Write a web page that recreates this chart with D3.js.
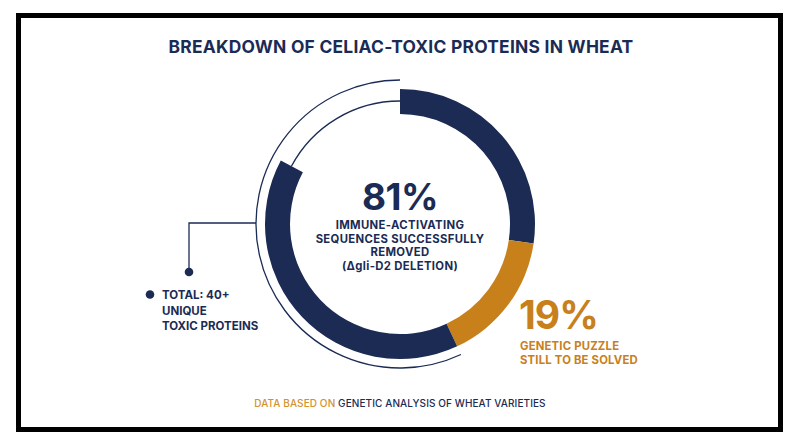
<!DOCTYPE html>
<html><head><meta charset="utf-8">
<script src="https://cdn.jsdelivr.net/npm/d3@7"></script>
<style>html,body{margin:0;padding:0;background:#fff;}svg{display:block;}</style>
</head><body>
<svg id="c" width="800" height="447"></svg>
<script>
// Data
const segmentLabels = ["Removed (part 1)", "Genetic puzzle", "Removed (part 2)"];
const segmentValues = [33, 19, 48];           // 81% navy split around the 19% orange slice
const segmentKinds  = ["removed", "puzzle", "removed"];
const mainValue = 81;
const puzzleValue = 19;
const titleText = "BREAKDOWN OF CELIAC-TOXIC PROTEINS IN WHEAT";
const centerLines = ["IMMUNE-ACTIVATING", "SEQUENCES SUCCESSFULLY", "REMOVED", "(\u0394gli-D2 DELETION)"];
const puzzleLines = ["GENETIC PUZZLE", "STILL TO BE SOLVED"];
const totalLines = ["TOTAL: 40+", "UNIQUE", "TOXIC PROTEINS"];

const NAVY = "#1b2b54", ORANGE = "#c8801a", ORANGE_L = "#d4922e";
const FONT = "Inter, 'Open Sans', sans-serif";
const svg = d3.select("#c");

// Frame
svg.append("rect").attr("x",18.5).attr("y",15.5).attr("width",762).attr("height",414)
  .attr("fill","#fff").attr("stroke","#000").attr("stroke-width",5);

// Title
svg.append("text").attr("x",401).attr("y",53).attr("text-anchor","middle")
  .attr("font-family",FONT).attr("font-weight",700).attr("font-size",17.4)
  .attr("letter-spacing",0.25)
  .attr("fill",NAVY).text(titleText);

const cx = 400, cy = 224, rOut = 135, rIn = 110;
const deg = Math.PI/180;
const ringSpan = 298*deg;
const g = svg.append("g").attr("transform",`translate(${cx},${cy})`);

const pie = d3.pie().sort(null).value(d=>d).startAngle(0).endAngle(ringSpan);
const arcs = pie(segmentValues);
const arcGen = d3.arc().innerRadius(rIn).outerRadius(rOut);
g.selectAll("path.seg").data(arcs).join("path").attr("class","seg")
  .attr("d",arcGen)
  .attr("fill",(d,i)=>segmentKinds[i]==="puzzle"?ORANGE:NAVY);

// Thin line in the unfilled gap (mid radius)
const thinMid = d3.arc().innerRadius(123).outerRadius(123).startAngle(ringSpan).endAngle(2*Math.PI);
g.append("path").attr("d",thinMid()).attr("fill","none").attr("stroke",NAVY).attr("stroke-width",1.3);

// Outer thin arc from end of puzzle slice around to top
const puzzleEnd = arcs[1].endAngle;
const thinOuter = d3.arc().innerRadius(144).outerRadius(144).startAngle(puzzleEnd).endAngle(2*Math.PI);
g.append("path").attr("d",thinOuter()).attr("fill","none").attr("stroke",NAVY).attr("stroke-width",1.3);

// Center text
g.append("text").attr("x",0).attr("y",-14).attr("text-anchor","middle")
  .attr("font-family",FONT).attr("font-weight",700).attr("font-size",37)
  .attr("fill",NAVY).attr("letter-spacing",-0.5).text(mainValue+"%");
g.selectAll("text.cl").data(centerLines).join("text").attr("class","cl")
  .attr("x",0).attr("y",(d,i)=>5+i*13.7).attr("text-anchor","middle")
  .attr("font-family",FONT).attr("font-weight",700).attr("font-size",11.3)
  .attr("letter-spacing",0.35)
  .attr("fill",NAVY).text(d=>d);

// Puzzle label
svg.append("text").attr("x",519).attr("y",328.5)
  .attr("font-family",FONT).attr("font-weight",700).attr("font-size",39)
  .attr("fill",ORANGE).attr("letter-spacing",-1).text(puzzleValue+"%");
svg.selectAll("text.pl").data(puzzleLines).join("text").attr("class","pl")
  .attr("x",520).attr("y",(d,i)=>350+i*14)
  .attr("font-family",FONT).attr("font-weight",700).attr("font-size",11.3)
  .attr("letter-spacing",0.2)
  .attr("fill",ORANGE).text(d=>d);

// Leader line + total label
svg.append("path").attr("d","M256,223H189V272").attr("fill","none").attr("stroke",NAVY).attr("stroke-width",1.3);
svg.append("circle").attr("cx",189).attr("cy",272).attr("r",4.3).attr("fill",NAVY);
svg.append("circle").attr("cx",150).attr("cy",294.5).attr("r",4.3).attr("fill",NAVY);
svg.selectAll("text.tl").data(totalLines).join("text").attr("class","tl")
  .attr("x",162).attr("y",(d,i)=>299+i*15.5)
  .attr("font-family",FONT).attr("font-weight",700).attr("font-size",11.5)
  .attr("fill",NAVY).text(d=>d);

// Footer
const ft = svg.append("text").attr("x",400).attr("y",407).attr("text-anchor","middle")
  .attr("font-family",FONT).attr("font-weight",500).attr("font-size",10)
  .attr("letter-spacing",0.1);
ft.append("tspan").attr("fill",ORANGE_L).text("DATA BASED ON ");
ft.append("tspan").attr("fill",NAVY).text("GENETIC ANALYSIS OF WHEAT VARIETIES");
</script>
</body></html>
